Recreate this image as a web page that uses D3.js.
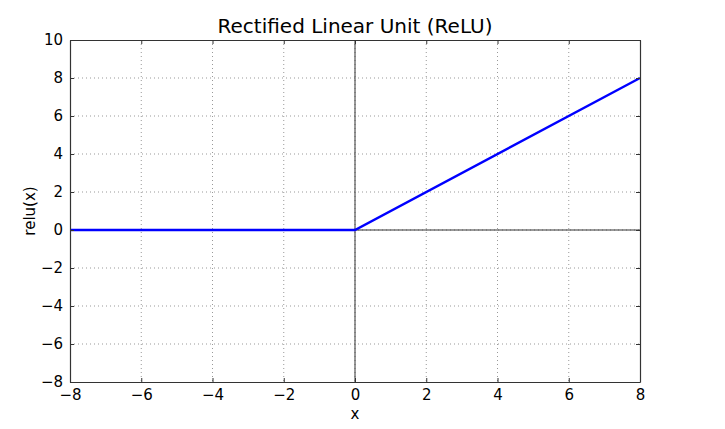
<!DOCTYPE html>
<html>
<head>
<meta charset="utf-8">
<script src="https://cdn.jsdelivr.net/npm/d3@7"></script>
<style>
  body { margin: 0; background: #fff; }
  text { font-family: "DejaVu Sans", sans-serif; fill: #000; }
</style>
</head>
<body>
<svg id="chart"></svg>
<script>
// data: relu(x) sampled at the breakpoints
var xs = [-8, 0, 8];
var ys = [0, 0, 8];
var xTicks = [-8, -6, -4, -2, 0, 2, 4, 6, 8];
var yTicks = [-8, -6, -4, -2, 0, 2, 4, 6, 8, 10];

var width = 725, height = 429,
    margin = {top: 40, right: 85, bottom: 47, left: 70};
var w = width - margin.left - margin.right,
    h = height - margin.top - margin.bottom;

var svg = d3.select("#chart")
    .attr("width", width)
    .attr("height", height);

var g = svg.append("g")
    .attr("transform", "translate(" + margin.left + "," + margin.top + ")");

var x = d3.scaleLinear().domain([-8, 8]).range([0, w]);
var y = d3.scaleLinear().domain([-8, 10]).range([h, 0]);

function minus(d) { return d < 0 ? "\u2212" + Math.abs(d) : d; }

// dotted grid
g.append("g").selectAll("line")
    .data(xTicks.slice(1, -1))
  .enter().append("line")
    .attr("x1", d => x(d)).attr("x2", d => x(d))
    .attr("y1", 0).attr("y2", h)
    .attr("stroke", "#999").attr("stroke-width", 1)
    .attr("stroke-dasharray", "1,3");

g.append("g").selectAll("line")
    .data(yTicks.slice(1, -1))
  .enter().append("line")
    .attr("y1", d => y(d)).attr("y2", d => y(d))
    .attr("x1", 0).attr("x2", w)
    .attr("stroke", "#999").attr("stroke-width", 1)
    .attr("stroke-dasharray", "1,3");

// zero lines
g.append("line")
    .attr("x1", 0).attr("x2", w)
    .attr("y1", y(0)).attr("y2", y(0))
    .attr("stroke", "#333").attr("stroke-width", 1);
g.append("line")
    .attr("x1", x(0)).attr("x2", x(0))
    .attr("y1", 0).attr("y2", h)
    .attr("stroke", "#333").attr("stroke-width", 1);

// relu line
var line = d3.line()
    .x((d, i) => x(xs[i]))
    .y(d => y(d));

g.append("path")
    .datum(ys)
    .attr("d", line)
    .attr("fill", "none")
    .attr("stroke", "#0000ff")
    .attr("stroke-width", 2.4);

// axes, inward ticks
var axBottom = g.append("g")
    .attr("transform", "translate(0," + h + ")")
    .call(d3.axisBottom(x).tickValues(xTicks).tickSizeInner(-4).tickSizeOuter(0)
      .tickPadding(7).tickFormat(minus));
var axTop = g.append("g")
    .call(d3.axisTop(x).tickValues(xTicks).tickSizeInner(-4).tickSizeOuter(0).tickFormat(""));
var axLeft = g.append("g")
    .call(d3.axisLeft(y).tickValues(yTicks).tickSizeInner(-4).tickSizeOuter(0)
      .tickPadding(7).tickFormat(minus));
var axRight = g.append("g")
    .attr("transform", "translate(" + w + ",0)")
    .call(d3.axisRight(y).tickValues(yTicks).tickSizeInner(-4).tickSizeOuter(0).tickFormat(""));

[axBottom, axTop, axLeft, axRight].forEach(function(a) {
  a.select(".domain").attr("stroke", "#333").attr("stroke-width", 1.2);
  a.selectAll(".tick line").attr("stroke", "#333");
  a.selectAll("text").style("font-family", "DejaVu Sans, sans-serif").style("font-size", "15px").attr("fill", "#000");
});

// title and labels
svg.append("text")
    .attr("x", margin.left + w / 2)
    .attr("y", 33)
    .attr("text-anchor", "middle")
    .style("font-size", "20px")
    .text("Rectified Linear Unit (ReLU)");

svg.append("text")
    .attr("x", margin.left + w / 2)
    .attr("y", 419)
    .attr("text-anchor", "middle")
    .style("font-size", "15px")
    .text("x");

svg.append("text")
    .attr("transform", "translate(35," + (margin.top + h / 2) + ") rotate(-90)")
    .attr("text-anchor", "middle")
    .style("font-size", "15px")
    .text("relu(x)");
</script>
</body>
</html>
